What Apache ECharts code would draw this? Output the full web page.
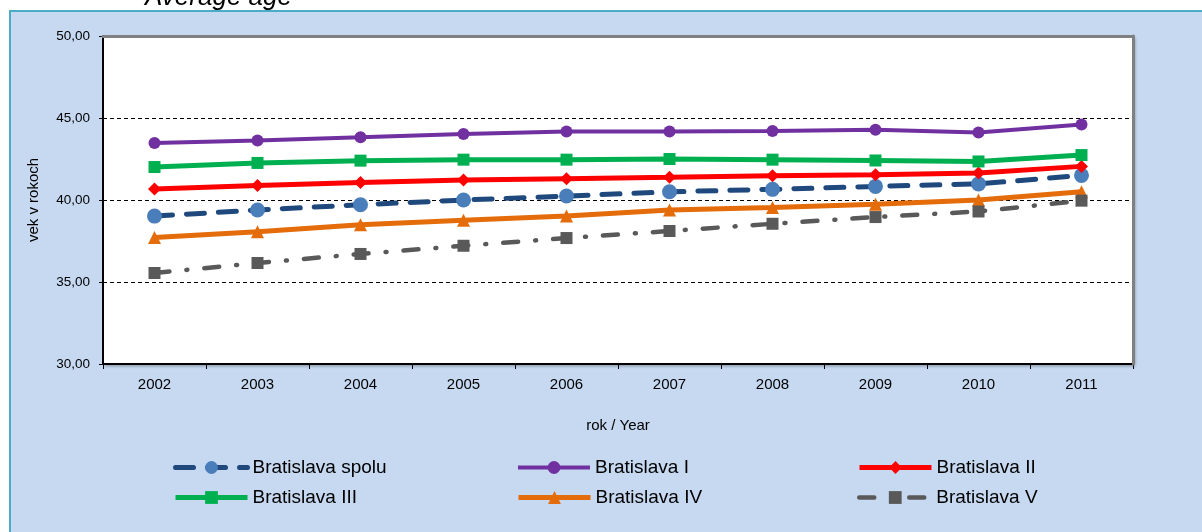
<!DOCTYPE html>
<html>
<head>
<meta charset="utf-8">
<script src="https://cdn.jsdelivr.net/npm/echarts@6/dist/echarts.min.js"></script>
<style>
html,body{margin:0;padding:0;background:#fff;}
#chart{width:1202px;height:532px;}
</style>
</head>
<body>
<div id="chart"></div>
<script>
var years = ['2002','2003','2004','2005','2006','2007','2008','2009','2010','2011'];
var seriesNames = ['Bratislava spolu','Bratislava I','Bratislava II','Bratislava III','Bratislava IV','Bratislava V'];
var spolu = [39.02, 39.39, 39.71, 40.00, 40.24, 40.50, 40.65, 40.83, 40.98, 41.50];
var bI    = [43.48, 43.63, 43.82, 44.02, 44.17, 44.17, 44.21, 44.29, 44.12, 44.61];
var bII   = [40.67, 40.89, 41.07, 41.22, 41.30, 41.38, 41.48, 41.54, 41.65, 42.05];
var bIII  = [42.01, 42.26, 42.40, 42.46, 42.46, 42.50, 42.46, 42.41, 42.35, 42.74];
var bIV   = [37.72, 38.06, 38.49, 38.76, 39.02, 39.39, 39.55, 39.74, 40.00, 40.50];
var bV    = [35.55, 36.16, 36.71, 37.21, 37.68, 38.11, 38.55, 38.96, 39.30, 39.96];
var titleText = 'Average age';
var yName = 'vek v rokoch';
var xName = 'rok / Year';

var FONT = 'Liberation Sans, Arial, sans-serif';
var chart = echarts.init(document.getElementById('chart'), null, {renderer:'canvas'});

function legendAt(name, left, top, lw){
  return {
    data:[name], left:left, top:top, orient:'horizontal',
    itemWidth:72, itemHeight:16, itemGap:5,
    lineStyle:{width:lw},
    textStyle:{fontFamily:FONT, fontSize:19, color:'#000'},
    selectedMode:false
  };
}

var option = {
  animation:false,
  backgroundColor:'#ffffff',
  graphic:[
    {type:'rect', z:-100, shape:{x:10, y:11, width:1200, height:530},
     style:{fill:'#C6D9F1', stroke:'#4BACC6', lineWidth:2}},
    {type:'text', z:10, x:145, y:11,
     style:{text:titleText, font:'italic 26px Liberation Sans, Arial, sans-serif', fill:'#000', verticalAlign:'bottom', align:'left'}}
  ],
  legend:[
    legendAt(seriesNames[0], 168, 453, 5),
    legendAt(seriesNames[1], 511, 453, 4),
    legendAt(seriesNames[2], 852, 453, 5),
    legendAt(seriesNames[3], 168, 483, 5),
    legendAt(seriesNames[4], 511, 483, 5),
    legendAt(seriesNames[5], 852, 483, 4.5)
  ],
  grid:{left:103, right:69, top:36, bottom:168, show:true, backgroundColor:'#ffffff',
        borderColor:'#808080', borderWidth:0,
        shadowColor:'rgba(0,0,0,0.35)', shadowBlur:3, shadowOffsetX:2, shadowOffsetY:2,
        containLabel:false},
  xAxis:[
    {type:'category', data:years, boundaryGap:true, position:'bottom',
     axisLine:{show:true, lineStyle:{color:'#000', width:2}},
     axisTick:{show:true, inside:false, length:5, alignWithLabel:false, lineStyle:{color:'#000', width:1}},
     axisLabel:{fontFamily:FONT, fontSize:15, color:'#000', margin:13},
     splitLine:{show:false},
     name:xName, nameLocation:'middle', nameGap:54,
     nameTextStyle:{fontFamily:FONT, fontSize:15, color:'#000'}},
    {type:'category', data:years, boundaryGap:true, position:'top', z:5,
     axisLine:{show:true, lineStyle:{color:'#808080', width:3}},
     axisTick:{show:false}, axisLabel:{show:false}, splitLine:{show:false}}
  ],
  yAxis:[
    {type:'value', min:30, max:50, interval:5, position:'left',
     axisLine:{show:true, lineStyle:{color:'#000', width:2}},
     axisTick:{show:true, inside:false, length:4, lineStyle:{color:'#000', width:1}},
     axisLabel:{fontFamily:FONT, fontSize:13.5, color:'#000', margin:13,
       formatter:function(v){return v.toFixed(2).replace('.', ',');}},
     splitLine:{show:true, lineStyle:{color:'#000', width:1, type:[4,3]}},
     name:yName, nameLocation:'middle', nameGap:62, nameRotate:90,
     nameTextStyle:{fontFamily:FONT, fontSize:15, color:'#000'}},
    {type:'value', min:30, max:50, interval:5, position:'right', z:5,
     axisLine:{show:true, lineStyle:{color:'#808080', width:3}},
     axisTick:{show:false}, axisLabel:{show:false}, splitLine:{show:false}}
  ],
  series:[
    {name:seriesNames[0], type:'line', data:spolu, symbol:'circle', symbolSize:15,
     lineStyle:{color:'#1F497D', width:5, type:[18,14], cap:'round'},
     itemStyle:{color:'#4A7EBB'}},
    {name:seriesNames[1], type:'line', data:bI, symbol:'circle', symbolSize:12,
     lineStyle:{color:'#7030A0', width:4}, itemStyle:{color:'#7030A0'}},
    {name:seriesNames[2], type:'line', data:bII, symbol:'diamond', symbolSize:13,
     lineStyle:{color:'#FF0000', width:5}, itemStyle:{color:'#FF0000'}},
    {name:seriesNames[3], type:'line', data:bIII, symbol:'rect', symbolSize:12,
     lineStyle:{color:'#00B050', width:5}, itemStyle:{color:'#00B050'}},
    {name:seriesNames[4], type:'line', data:bIV, symbol:'triangle', symbolSize:13,
     lineStyle:{color:'#E46C0A', width:5}, itemStyle:{color:'#E46C0A'}},
    {name:seriesNames[5], type:'line', data:bV, symbol:'rect', symbolSize:12,
     lineStyle:{color:'#595959', width:4.5, type:[15,17,1,17], cap:'round'},
     itemStyle:{color:'#595959'}}
  ]
};
chart.setOption(option);
</script>
</body>
</html>
